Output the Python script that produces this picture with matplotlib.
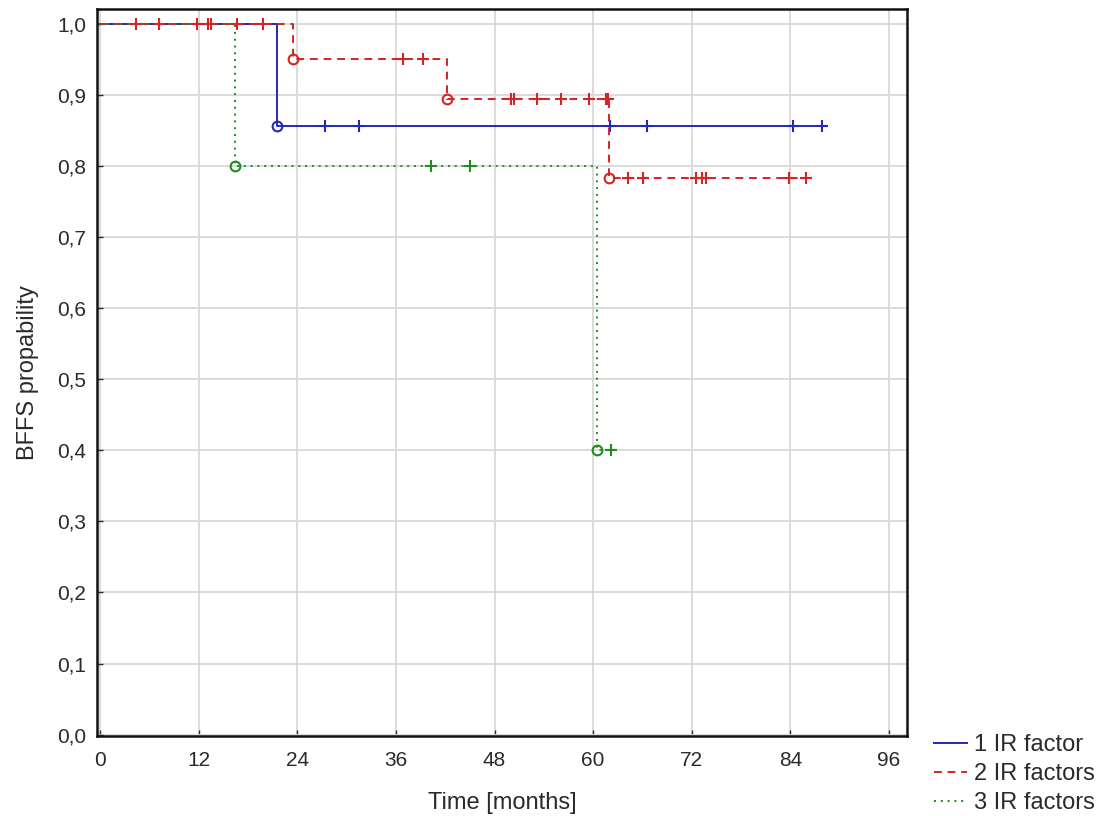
import numpy as np
import matplotlib
matplotlib.use('Agg')
import matplotlib.pyplot as plt
from matplotlib.lines import Line2D

plt.rcParams['font.family'] = ['Liberation Sans', 'DejaVu Sans']

# krzywe Kaplana-Meiera (odczyt z wykresu)
labels = ['1 IR factor', '2 IR factors', '3 IR factors']

g1_t = [0, 21.5, 87.8]
g1_s = [1.0, 0.857, 0.857]
g1_event_t = [21.5]
g1_cens_t = [27.4, 31.5, 62.1, 66.5, 84.3, 87.8]

g2_t = [0, 23.5, 42.2, 61.9, 85.9]
g2_s = [1.0, 0.95, 0.895, 0.783, 0.783]
g2_event_t = [23.5, 42.2, 61.9]
g2_cens_t = [4.3, 7.2, 11.8, 13.1, 13.5, 16.6, 19.8, 36.9, 39.3, 50.0, 50.4,
             53.1, 56.1, 59.5, 61.6, 61.8, 64.2, 66.1, 72.5, 73.3, 73.7, 83.8, 85.9]

g3_t = [0, 16.4, 60.5, 62.2]
g3_s = [1.0, 0.8, 0.4, 0.4]
g3_event_t = [16.4, 60.5]
g3_cens_t = [40.3, 45.0, 62.2]

x_ticks = [0, 12, 24, 36, 48, 60, 72, 84, 96]
y_ticks = [0.0, 0.1, 0.2, 0.3, 0.4, 0.5, 0.6, 0.7, 0.8, 0.9, 1.0]

colors = ['#2228b8', '#d42424', '#1e8c1e']
styles = ['-', (0, (4, 3)), (0, (1, 2.5))]


def surv_at(t, st, ss):
    idx = np.searchsorted(st, t, side='right') - 1
    return np.array(ss)[idx]


fig = plt.figure(figsize=(11.03, 8.16), dpi=100)
ax = fig.add_axes([97 / 1103, 80 / 816, 810 / 1103, 727 / 816])

groups = [(g1_t, g1_s, g1_event_t, g1_cens_t),
          (g3_t, g3_s, g3_event_t, g3_cens_t),
          (g2_t, g2_s, g2_event_t, g2_cens_t)]
order = [0, 2, 1]
for (st, ss, ev, ce), k in zip(groups, order):
    c = colors[k]
    ax.step(st, ss, where='post', color=c, ls=styles[k], lw=1.4, zorder=3 + k)
    ax.plot(ev, surv_at(ev, st, ss), 'o', mfc='none', mec=c, ms=7, mew=1.5, zorder=4 + k)
    ax.plot(ce, surv_at(ce, st, ss), '+', color=c, ms=9, mew=1.5, zorder=4 + k)

ax.set_xlim(-0.4, 98.2)
ax.set_ylim(-0.002, 1.021)
ax.set_xticks(x_ticks)
ax.set_yticks(y_ticks)
ax.set_yticklabels([('%.1f' % v).replace('.', ',') for v in y_ticks])
ax.grid(True, color='#d8d8d8', lw=1.3)
ax.set_axisbelow(True)
ax.tick_params(direction='in', length=4, width=1, labelsize=15, colors='#2a2a2a', pad=8)
ax.tick_params(axis='x', pad=11)
for sp in ax.spines.values():
    sp.set_linewidth(1.8)
    sp.set_color('#111111')

ax.set_xlabel('Time [months]', fontsize=17, color='#2a2a2a', labelpad=16)
ax.set_ylabel('BFFS propability', fontsize=17, color='#2a2a2a', labelpad=13)

handles = [Line2D([], [], color=colors[i], ls=styles[i], lw=1.4) for i in range(3)]
fig.legend(handles, labels, loc='upper left', bbox_to_anchor=(934 / 1103, 1 - 734 / 816),
           frameon=False, fontsize=17, handlelength=1.4, handletextpad=0.3,
           labelspacing=0.3, borderpad=0, borderaxespad=0, labelcolor='#2a2a2a')

plt.savefig('out.png', dpi=100)
